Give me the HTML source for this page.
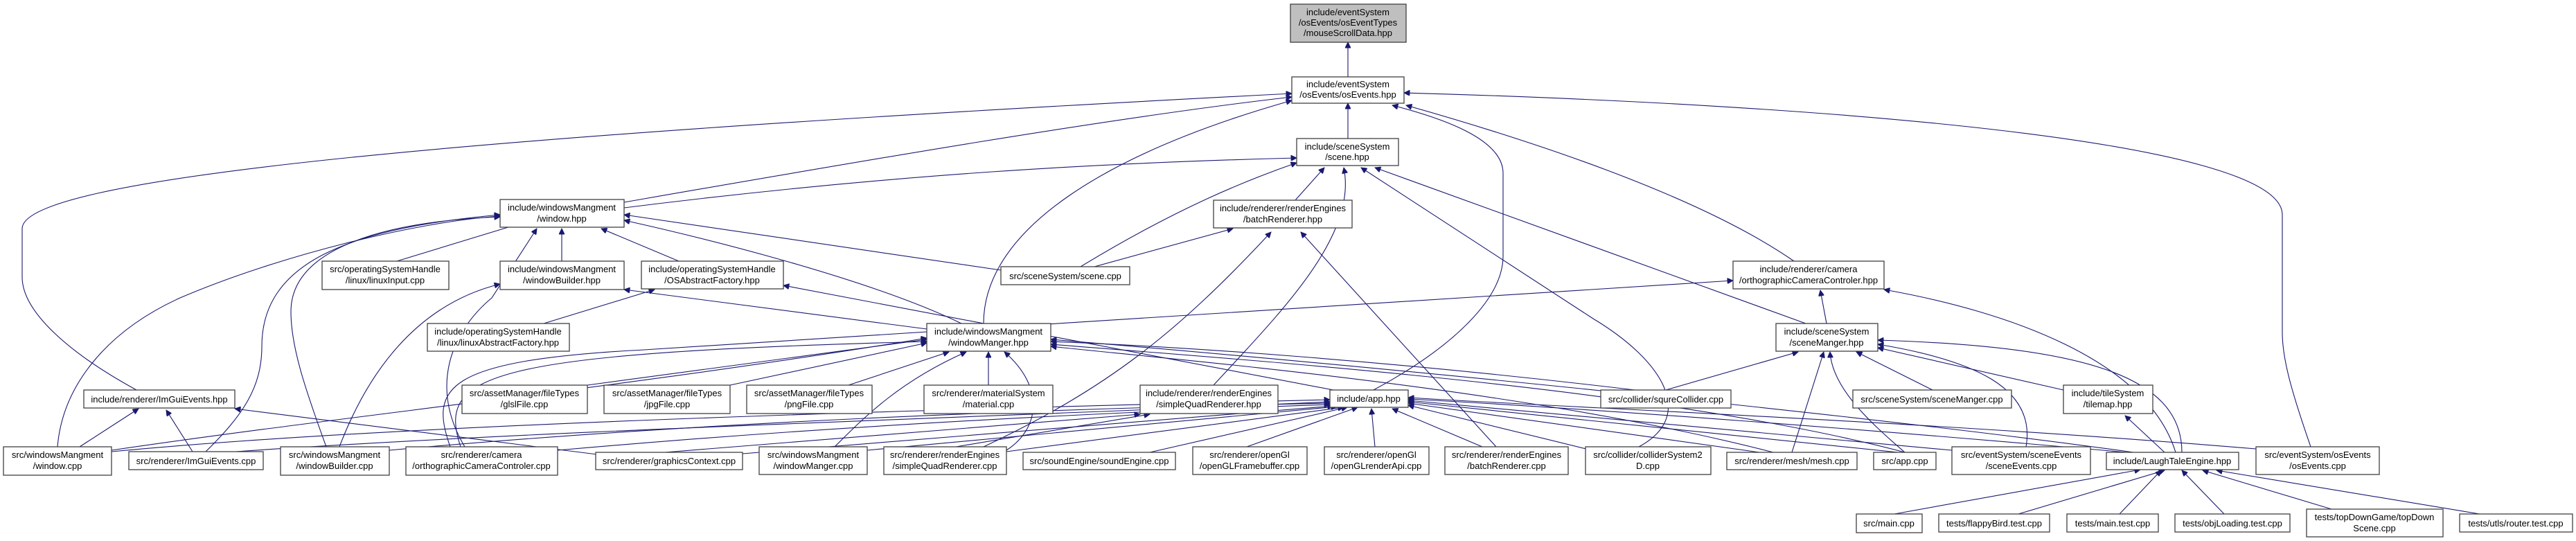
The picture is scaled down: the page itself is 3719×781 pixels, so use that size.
<!DOCTYPE html>
<html><head><meta charset="utf-8"><style>
html,body{margin:0;padding:0;background:#fff;}
svg{display:block;}
text{font-family:"Liberation Sans",Arial,sans-serif;font-size:13px;fill:#000;text-anchor:middle;}
rect{fill:#fff;stroke:#404040;stroke-width:1.3;}
path{fill:none;stroke:#191970;stroke-width:1.1;}
</style></head><body>
<svg width="3719" height="781" viewBox="0 0 3719 781" xmlns="http://www.w3.org/2000/svg">
<defs><marker id="a" viewBox="0 0 10 10" refX="10" refY="5" markerWidth="10" markerHeight="8" markerUnits="userSpaceOnUse" orient="auto"><path d="M0,0 L10,5 L0,10 z" style="fill:#191970;stroke:#191970"/></marker></defs>
<g marker-end="url(#a)">
<path d="M1946,111 L1946,61"/>
<path d="M1946,200 L1946,149"/>
<path d="M901,292 C1200,240 1600,170 1865,140"/>
<path d="M1420,467 C1420,330 1600,220 1865,145"/>
<path d="M197,563 C100,510 32,450 32,400 L32,330 C32,260 600,200 1865,135"/>
<path d="M1983,563 C2100,500 2170,430 2170,370 L2170,250 C2170,200 2080,170 2010,152"/>
<path d="M2590,377 C2450,280 2200,200 2030,152"/>
<path d="M3336,645 C3310,570 3295,520 3295,480 L3295,310 C3295,200 2600,150 2027,134"/>
<path d="M901,300 C1300,250 1600,235 1872,228"/>
<path d="M1870,289 L1912,242"/>
<path d="M1560,385 C1700,300 1800,260 1872,235"/>
<path d="M1752,556 C1850,450 1960,340 1940,242"/>
<path d="M2366,645 C2450,600 2400,520 2300,460 L1965,242"/>
<path d="M2607,467 L1985,242"/>
<path d="M573,377 L760,320"/>
<path d="M811,377 L811,330"/>
<path d="M980,377 L868,330"/>
<path d="M1445,390 L901,310"/>
<path d="M1388,467 C1250,400 1000,340 901,318"/>
<path d="M83,645 C90,560 150,480 260,430 C400,370 600,320 722,312"/>
<path d="M297,652 C350,600 378,560 378,500 C378,380 500,330 722,310"/>
<path d="M471,645 C440,560 420,500 420,450 C420,360 550,320 722,313"/>
<path d="M490,645 C530,540 600,440 722,410"/>
<path d="M671,645 C620,560 650,480 710,430 L775,330"/>
<path d="M1338,475 L901,418"/>
<path d="M785,467 L945,418"/>
<path d="M1925,563 L1131,412"/>
<path d="M1580,385 L1780,330"/>
<path d="M1420,645 C1600,560 1700,480 1835,335"/>
<path d="M2160,645 L1878,335"/>
<path d="M848,556 L1338,490"/>
<path d="M1054,556 L1338,495"/>
<path d="M1225,556 L1370,508"/>
<path d="M1427,556 L1427,508"/>
<path d="M1205,645 C1250,600 1300,550 1395,508"/>
<path d="M1453,650 C1500,620 1510,560 1450,508"/>
<path d="M665,645 C630,540 700,510 1338,493"/>
<path d="M161,650 C500,600 900,560 1338,488"/>
<path d="M2360,563 C2000,520 1700,500 1517,493"/>
<path d="M2560,653 C2200,560 1700,520 1517,500"/>
<path d="M2750,653 C2400,560 1800,520 1517,497"/>
<path d="M3080,653 C2700,600 2000,530 1517,490"/>
<path d="M2637,467 L2628,419"/>
<path d="M3141,653 C3100,520 2900,450 2720,418"/>
<path d="M650,645 C620,560 640,520 930,505 L2502,405"/>
<path d="M2405,563 L2596,508"/>
<path d="M2790,563 L2680,508"/>
<path d="M2587,653 L2633,508"/>
<path d="M2750,653 C2700,610 2645,560 2642,508"/>
<path d="M2925,645 C2940,560 2850,520 2711,497"/>
<path d="M3150,653 C3150,540 3000,500 2711,491"/>
<path d="M2979,563 L2711,502"/>
<path d="M960,653 L1646,598"/>
<path d="M1380,645 L1660,598"/>
<path d="M161,652 C600,610 1400,590 1920,577"/>
<path d="M340,652 C800,620 1500,600 1920,580"/>
<path d="M562,650 C1000,610 1500,590 1920,582"/>
<path d="M805,650 C1200,615 1600,595 1920,584"/>
<path d="M1072,655 L1925,586"/>
<path d="M1252,650 L1930,587"/>
<path d="M1453,652 L1940,588"/>
<path d="M1660,653 L1945,588"/>
<path d="M1800,645 L1960,588"/>
<path d="M1985,645 L1980,590"/>
<path d="M2140,645 L2010,590"/>
<path d="M2290,648 L2033,585"/>
<path d="M2540,653 L2033,582"/>
<path d="M2740,653 L2033,580"/>
<path d="M2818,650 L2033,578"/>
<path d="M3070,653 C2700,620 2300,590 2033,576"/>
<path d="M3257,648 C2800,610 2300,590 2033,574"/>
<path d="M115,645 L200,590"/>
<path d="M278,652 L240,592"/>
<path d="M870,657 L339,590"/>
<path d="M3125,653 L3068,600"/>
<path d="M2735,742 L3090,678"/>
<path d="M2914,742 L3125,679"/>
<path d="M3060,742 L3120,679"/>
<path d="M3211,742 L3150,679"/>
<path d="M3366,735 L3180,679"/>
<path d="M3580,742 L3200,679"/>
</g>
<g>
<rect x="1863" y="6" width="167" height="55" style="fill:#bfbfbf"/><text x="1946" y="22">include/eventSystem</text><text x="1946" y="37">/osEvents/osEventTypes</text><text x="1946" y="52">/mouseScrollData.hpp</text>
<rect x="1865" y="111" width="162" height="38"/><text x="1946" y="126">include/eventSystem</text><text x="1946" y="141">/osEvents/osEvents.hpp</text>
<rect x="1872" y="200" width="147" height="39"/><text x="1945" y="216">include/sceneSystem</text><text x="1945" y="231">/scene.hpp</text>
<rect x="722" y="288" width="179" height="40"/><text x="811" y="304">include/windowsMangment</text><text x="811" y="320">/window.hpp</text>
<rect x="1752" y="289" width="200" height="40"/><text x="1852" y="305">include/renderer/renderEngines</text><text x="1852" y="321">/batchRenderer.hpp</text>
<rect x="465" y="377" width="183" height="41"/><text x="556" y="393">src/operatingSystemHandle</text><text x="556" y="409">/linux/linuxInput.cpp</text>
<rect x="722" y="377" width="179" height="41"/><text x="811" y="393">include/windowsMangment</text><text x="811" y="409">/windowBuilder.hpp</text>
<rect x="926" y="377" width="205" height="40"/><text x="1028" y="393">include/operatingSystemHandle</text><text x="1028" y="409">/OSAbstractFactory.hpp</text>
<rect x="1445" y="385" width="186" height="26"/><text x="1538" y="403">src/sceneSystem/scene.cpp</text>
<rect x="2502" y="377" width="218" height="40"/><text x="2611" y="393">include/renderer/camera</text><text x="2611" y="409">/orthographicCameraControler.hpp</text>
<rect x="617" y="467" width="205" height="40"/><text x="719" y="483">include/operatingSystemHandle</text><text x="719" y="499">/linux/linuxAbstractFactory.hpp</text>
<rect x="1338" y="467" width="179" height="40"/><text x="1427" y="483">include/windowsMangment</text><text x="1427" y="499">/windowManger.hpp</text>
<rect x="2564" y="467" width="147" height="40"/><text x="2637" y="483">include/sceneSystem</text><text x="2637" y="499">/sceneManger.hpp</text>
<rect x="121" y="563" width="218" height="26"/><text x="230" y="581">include/renderer/ImGuiEvents.hpp</text>
<rect x="667" y="556" width="181" height="41"/><text x="757" y="572">src/assetManager/fileTypes</text><text x="757" y="588">/glslFile.cpp</text>
<rect x="872" y="556" width="182" height="41"/><text x="963" y="572">src/assetManager/fileTypes</text><text x="963" y="588">/jpgFile.cpp</text>
<rect x="1078" y="556" width="181" height="41"/><text x="1168" y="572">src/assetManager/fileTypes</text><text x="1168" y="588">/pngFile.cpp</text>
<rect x="1334" y="556" width="186" height="41"/><text x="1427" y="572">src/renderer/materialSystem</text><text x="1427" y="588">/material.cpp</text>
<rect x="1646" y="556" width="199" height="41"/><text x="1745" y="572">include/renderer/renderEngines</text><text x="1745" y="588">/simpleQuadRenderer.hpp</text>
<rect x="1920" y="563" width="113" height="25"/><text x="1976" y="580">include/app.hpp</text>
<rect x="2311" y="563" width="188" height="26"/><text x="2405" y="581">src/collider/squreCollider.cpp</text>
<rect x="2675" y="563" width="229" height="26"/><text x="2789" y="581">src/sceneSystem/sceneManger.cpp</text>
<rect x="2979" y="556" width="129" height="41"/><text x="3043" y="572">include/tileSystem</text><text x="3043" y="588">/tilemap.hpp</text>
<rect x="5" y="645" width="156" height="41"/><text x="83" y="661">src/windowsMangment</text><text x="83" y="677">/window.cpp</text>
<rect x="186" y="652" width="194" height="26"/><text x="283" y="670">src/renderer/ImGuiEvents.cpp</text>
<rect x="405" y="645" width="157" height="41"/><text x="483" y="661">src/windowsMangment</text><text x="483" y="677">/windowBuilder.cpp</text>
<rect x="586" y="645" width="219" height="41"/><text x="695" y="661">src/renderer/camera</text><text x="695" y="677">/orthographicCameraControler.cpp</text>
<rect x="860" y="653" width="212" height="25"/><text x="966" y="670">src/renderer/graphicsContext.cpp</text>
<rect x="1096" y="645" width="156" height="40"/><text x="1174" y="661">src/windowsMangment</text><text x="1174" y="677">/windowManger.cpp</text>
<rect x="1276" y="645" width="177" height="40"/><text x="1364" y="661">src/renderer/renderEngines</text><text x="1364" y="677">/simpleQuadRenderer.cpp</text>
<rect x="1477" y="653" width="220" height="25"/><text x="1587" y="670">src/soundEngine/soundEngine.cpp</text>
<rect x="1722" y="645" width="165" height="40"/><text x="1804" y="661">src/renderer/openGl</text><text x="1804" y="677">/openGLFramebuffer.cpp</text>
<rect x="1912" y="645" width="151" height="40"/><text x="1987" y="661">src/renderer/openGl</text><text x="1987" y="677">/openGLrenderApi.cpp</text>
<rect x="2086" y="645" width="178" height="40"/><text x="2175" y="661">src/renderer/renderEngines</text><text x="2175" y="677">/batchRenderer.cpp</text>
<rect x="2289" y="645" width="181" height="40"/><text x="2379" y="661">src/collider/colliderSystem2</text><text x="2379" y="677">D.cpp</text>
<rect x="2493" y="653" width="188" height="25"/><text x="2587" y="670">src/renderer/mesh/mesh.cpp</text>
<rect x="2705" y="653" width="90" height="25"/><text x="2750" y="670">src/app.cpp</text>
<rect x="2818" y="645" width="200" height="40"/><text x="2918" y="661">src/eventSystem/sceneEvents</text><text x="2918" y="677">/sceneEvents.cpp</text>
<rect x="3041" y="653" width="191" height="25"/><text x="3136" y="670">include/LaughTaleEngine.hpp</text>
<rect x="3257" y="645" width="178" height="40"/><text x="3346" y="661">src/eventSystem/osEvents</text><text x="3346" y="677">/osEvents.cpp</text>
<rect x="2680" y="742" width="95" height="27"/><text x="2727" y="760">src/main.cpp</text>
<rect x="2799" y="742" width="160" height="26"/><text x="2879" y="760">tests/flappyBird.test.cpp</text>
<rect x="2984" y="742" width="132" height="26"/><text x="3050" y="760">tests/main.test.cpp</text>
<rect x="3140" y="742" width="166" height="26"/><text x="3223" y="760">tests/objLoading.test.cpp</text>
<rect x="3330" y="735" width="197" height="40"/><text x="3428" y="751">tests/topDownGame/topDown</text><text x="3428" y="767">Scene.cpp</text>
<rect x="3551" y="742" width="163" height="26"/><text x="3632" y="760">tests/utls/router.test.cpp</text>
</g>
</svg>
</body></html>
